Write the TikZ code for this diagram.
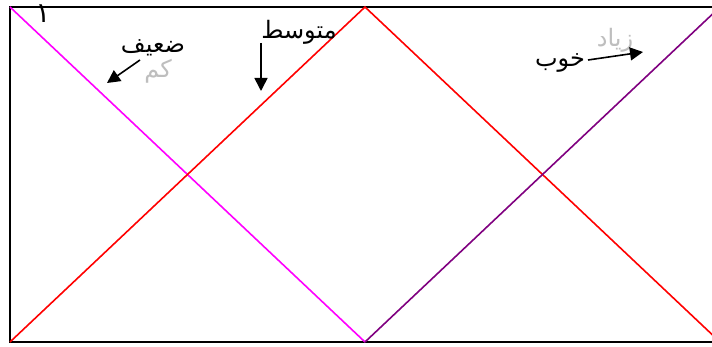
\documentclass[tikz,border=0pt]{standalone}
\usepackage{fontspec}
\usetikzlibrary{arrows.meta}
\TeXXeTstate=1
\newfontfamily\arabicfont[Script=Arabic]{DejaVu Sans}
\definecolor{lblgray}{RGB}{190,190,190}
\definecolor{mypurple}{RGB}{128,0,128}
\definecolor{mymagenta}{RGB}{255,0,255}
\tikzset{
  lbl/.style={font=\arabicfont\fontsize{24}{28}\selectfont, inner sep=0pt},
  glbl/.style={lbl, text=lblgray},
  pointer/.style={line width=1.6pt, -{Triangle[length=13pt,width=13pt]}},
  diag/.style={line width=1.6pt},
}
\begin{document}
\begin{tikzpicture}[x=1pt,y=-1pt]
\useasboundingbox (0,0) rectangle (712,347);
\clip (0,0) rectangle (712,347);
\fill[white] (0,0) rectangle (712,347);
\coordinate (TL) at (10,7);
\coordinate (BL) at (10,342);
\coordinate (TM) at (365,7);
\coordinate (BM) at (365,342);
\coordinate (TR) at (720,7);
\coordinate (BR) at (720,342);
\draw[line width=2pt] (TL) rectangle (BR);
\draw[diag, mymagenta] (TL) -- (BM);
\draw[diag, red] (BL) -- (TM) -- (BR);
\draw[diag, mypurple] (BM) -- (TR);
% labels
\node[lbl, font=\arabicfont\fontsize{28}{32}\selectfont] (one) at (43,14) {\beginR ۱\endR};
\node[lbl] (weak) at (153,48) {\beginR ضعیف\endR};
\node[glbl] (low) at (158,71) {\beginR کم\endR};
\node[lbl] (mid) at (299,32) {\beginR متوسط\endR};
\node[glbl] (much) at (615,40) {\beginR زیاد\endR};
\node[lbl] (good) at (560,63) {\beginR خوب\endR};
\coordinate (a1s) at (140,60);
\coordinate (a1e) at (107,83);
\coordinate (a2s) at (261,43);
\coordinate (a2e) at (261,91);
\coordinate (a3s) at (588,60);
\coordinate (a3e) at (643,52);
\draw[pointer] (a1s) -- (a1e);
\draw[pointer] (a2s) -- (a2e);
\draw[pointer] (a3s) -- (a3e);
\end{tikzpicture}
\end{document}
